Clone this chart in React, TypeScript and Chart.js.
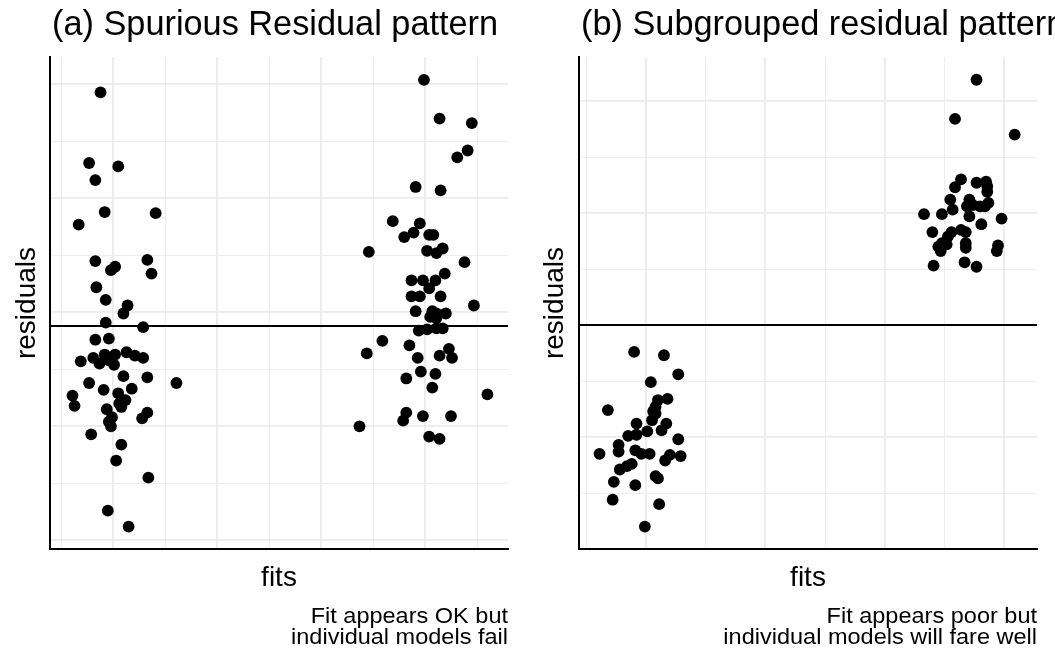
import React, { useEffect, useRef } from 'react';
import { Chart, registerables } from 'chart.js';

Chart.register(...registerables);

// ---------------- Panel (a): spurious residual pattern ----------------
const spuriousFits = [
  0.88, 0.77, 1.05, 0.83, 0.92, 1.41, 0.67, 0.83, 0.98, 1.02, 1.33, 1.37, 0.84, 0.93, 1.14, 1.10, 0.93, 1.29,
  0.83, 0.96, 0.81, 0.87, 0.92, 0.96, 1.01, 1.02, 1.13, 1.21, 1.29, 0.69, 1.10, 1.33, 1.61, 0.77, 0.91, 1.18,
  0.61, 0.63, 1.05, 1.06, 1.12, 1.08, 0.94, 0.99, 0.96, 0.98, 1.33, 1.28, 0.79, 1.08, 1.03, 1.34, 0.95, 1.15,
  3.99, 4.14, 4.45, 4.41, 4.31, 3.91, 4.15, 3.69, 3.95, 3.89, 3.80, 4.04, 4.08, 3.46, 4.02, 4.11, 4.17, 4.38,
  4.19, 3.87, 3.98, 4.10, 4.04, 3.87, 3.95, 4.15, 4.47, 3.91, 4.07, 4.05, 4.11, 4.20, 4.11, 3.94, 4.02, 4.11,
  4.17, 3.59, 3.44, 3.85, 3.93, 4.14, 4.23, 4.26, 3.96, 4.10, 3.82, 4.07, 4.60, 3.82, 3.79, 3.98, 4.25, 3.37,
  4.04, 4.14,
];
const spuriousResiduals = [
  2.05, 1.43, 1.40, 1.28, 1.00, 0.99, 0.89, 0.57, 0.49, 0.52, 0.58, 0.46, 0.34, 0.23, 0.18, 0.11, 0.03, -0.01,
  -0.12, -0.11, -0.28, -0.33, -0.25, -0.30, -0.34, -0.25, -0.23, -0.26, -0.28, -0.31, -0.44, -0.45, -0.50, -0.50, -0.56, -0.55,
  -0.61, -0.70, -0.59, -0.68, -0.65, -0.71, -0.73, -0.80, -0.84, -0.88, -0.76, -0.81, -0.95, -1.04, -1.18, -1.33, -1.62, -1.76,
  2.16, 1.82, 1.78, 1.54, 1.48, 1.22, 1.19, 0.92, 0.90, 0.82, 0.78, 0.80, 0.80, 0.65, 0.66, 0.64, 0.68, 0.56,
  0.46, 0.40, 0.40, 0.40, 0.33, 0.26, 0.26, 0.26, 0.18, 0.13, 0.13, 0.08, 0.11, 0.11, 0.07, -0.04, -0.03, -0.02,
  -0.02, -0.13, -0.24, -0.17, -0.28, -0.26, -0.20, -0.28, -0.40, -0.42, -0.46, -0.54, -0.60, -0.76, -0.83, -0.79, -0.79, -0.88,
  -0.97, -0.99,
];
const spuriousXRange = [0.394, 4.798];
const spuriousYRange = [-1.956, 2.36];
const spuriousXMajor = [1, 2, 3, 4];
const spuriousXMinor = [0.5, 1.5, 2.5, 3.5, 4.5];
const spuriousYMajor = [-1.88, -0.88, 0.12, 1.12, 2.12];
const spuriousYMinor = [-1.38, -0.38, 0.62, 1.62];

// ---------------- Panel (b): subgrouped residual pattern ----------------
const subgroupFits = [
  0.90, 1.15, 1.27, 1.04, 0.68, 1.10, 1.18, 1.08, 1.06, 1.08, 1.05, 0.92, 1.17, 1.13, 1.01, 0.85, 0.92, 1.27,
  0.77, 0.77, 0.61, 0.91, 0.96, 1.03, 1.16, 1.20, 1.29, 0.88, 0.84, 0.78, 1.08, 1.10, 0.73, 0.91, 0.72, 1.11, 0.99,
  3.77, 3.59, 4.09, 3.64, 3.59, 3.77, 3.85, 3.86, 3.86, 3.55, 3.71, 3.57, 3.69, 3.74, 3.80, 3.87, 3.84, 3.33,
  3.48, 3.71, 3.98, 3.81, 3.40, 3.56, 3.64, 3.68, 3.53, 3.48, 3.45, 3.47, 3.52, 3.68, 3.68, 3.95, 3.94, 3.41, 3.67, 3.77,
];
const subgroupResiduals = [
  -0.24, -0.27, -0.44, -0.51, -0.76, -0.67, -0.66, -0.73, -0.77, -0.79, -0.85, -0.88, -0.88, -0.94, -0.95, -0.99, -0.98, -1.02,
  -1.07, -1.13, -1.15, -1.12, -1.15, -1.15, -1.21, -1.16, -1.17, -1.24, -1.26, -1.29, -1.35, -1.37, -1.40, -1.43, -1.56, -1.60, -1.80,
  2.19, 1.84, 1.70, 1.30, 1.23, 1.27, 1.28, 1.24, 1.19, 1.12, 1.12, 1.03, 1.06, 1.07, 1.06, 1.09, 1.06, 0.99,
  0.99, 0.97, 0.95, 0.90, 0.83, 0.83, 0.85, 0.83, 0.79, 0.73, 0.70, 0.66, 0.72, 0.73, 0.69, 0.71, 0.66, 0.53, 0.56, 0.52,
];
const subgroupXRange = [0.438, 4.277];
const subgroupYRange = [-2.0, 2.393];
const subgroupXMajor = [1, 2, 3, 4];
const subgroupXMinor = [0.5, 1.5, 2.5, 3.5];
const subgroupYMajor = [-2, -1, 0, 1, 2];
const subgroupYMinor = [-1.5, -0.5, 0.5, 1.5];

const referenceLevel = 0;

const titles = ['(a) Spurious Residual pattern', '(b) Subgrouped residual pattern'];
const xAxisTitle = 'fits';
const yAxisTitle = 'residuals';
const captions = [
  ['Fit appears OK but', 'individual models fail'],
  ['Fit appears poor but', 'individual models will fare well'],
];

// ---------------- styling ----------------
const FONT = "'Liberation Sans', Arial, Helvetica, sans-serif";
const GRID_COLOR = '#EBEBEB';
const HEIGHT = 653;

type Panel = {
  fits: number[];
  residuals: number[];
  xRange: number[];
  yRange: number[];
  xMajor: number[];
  xMinor: number[];
  yMajor: number[];
  yMinor: number[];
  title: string;
  caption: string[];
  padding: { left: number; right: number; top: number; bottom: number };
  yTitleGap: number;
};

function makeTextPlugin(p: Panel) {
  return {
    id: 'panelText',
    afterDraw(chart: any) {
      const { ctx, chartArea: a } = chart;
      ctx.save();
      ctx.fillStyle = '#000';
      ctx.textBaseline = 'alphabetic';
      // title
      ctx.font = `34.3px ${FONT}`;
      ctx.textAlign = 'left';
      ctx.fillText(p.title, a.left + 2, 34.5);
      // x axis title
      ctx.font = `28px ${FONT}`;
      ctx.textAlign = 'center';
      ctx.fillText(xAxisTitle, (a.left + a.right) / 2, a.bottom + 37);
      // y axis title
      ctx.save();
      ctx.translate(a.left - p.yTitleGap, (a.top + a.bottom) / 2);
      ctx.rotate(-Math.PI / 2);
      ctx.fillText(yAxisTitle, 0, 0);
      ctx.restore();
      // caption (right-aligned under the panel)
      ctx.font = `22.5px ${FONT}`;
      ctx.textAlign = 'right';
      p.caption.forEach((line, i) => {
        ctx.save();
        ctx.translate(a.right, a.bottom + 73.7 + i * 20.8);
        ctx.scale(1.045, 1);
        ctx.fillText(line, 0, 0);
        ctx.restore();
      });
      ctx.restore();
    },
  };
}

function buildConfig(p: Panel): any {
  const xGrid = [...p.xMinor, ...p.xMajor].sort((m, n) => m - n);
  const yGrid = [...p.yMinor, ...p.yMajor].sort((m, n) => m - n);
  const points = p.fits.map((x, i) => ({ x, y: p.residuals[i] }));
  return {
    type: 'scatter',
    data: {
      datasets: [
        {
          data: [
            { x: p.xRange[0], y: referenceLevel },
            { x: p.xRange[1], y: referenceLevel },
          ],
          showLine: true,
          borderColor: '#000',
          borderWidth: 2,
          pointRadius: 0,
          pointHoverRadius: 0,
        },
        {
          data: points,
          backgroundColor: '#000',
          borderColor: '#000',
          borderWidth: 0,
          pointRadius: 5.9,
          pointHoverRadius: 5.9,
          pointStyle: 'circle',
        },
      ],
    },
    options: {
      animation: false,
      responsive: false,
      events: [],
      layout: { padding: p.padding, autoPadding: false },
      plugins: {
        legend: { display: false },
        tooltip: { enabled: false },
        title: { display: false },
      },
      scales: {
        x: {
          type: 'linear',
          min: p.xRange[0],
          max: p.xRange[1],
          afterBuildTicks: (scale: any) => {
            scale.ticks = xGrid.map((value) => ({ value }));
          },
          ticks: { display: false },
          grid: {
            color: GRID_COLOR,
            drawTicks: false,
            lineWidth: (c: any) => (c.tick && p.xMajor.includes(c.tick.value) ? 1.8 : 0.9),
          },
          border: { display: true, color: '#000', width: 2 },
        },
        y: {
          type: 'linear',
          min: p.yRange[0],
          max: p.yRange[1],
          afterBuildTicks: (scale: any) => {
            scale.ticks = yGrid.map((value) => ({ value }));
          },
          ticks: { display: false },
          grid: {
            color: GRID_COLOR,
            drawTicks: false,
            lineWidth: (c: any) => (c.tick && p.yMajor.includes(c.tick.value) ? 1.8 : 0.9),
          },
          border: { display: true, color: '#000', width: 2 },
        },
      },
    },
    plugins: [makeTextPlugin(p)],
  };
}

const panels: Panel[] = [
  {
    fits: spuriousFits,
    residuals: spuriousResiduals,
    xRange: spuriousXRange,
    yRange: spuriousYRange,
    xMajor: spuriousXMajor,
    xMinor: spuriousXMinor,
    yMajor: spuriousYMajor,
    yMinor: spuriousYMinor,
    title: titles[0],
    caption: captions[0],
    padding: { left: 50, right: 19, top: 57, bottom: 104 },
    yTitleGap: 15,
  },
  {
    fits: subgroupFits,
    residuals: subgroupResiduals,
    xRange: subgroupXRange,
    yRange: subgroupYRange,
    xMajor: subgroupXMajor,
    xMinor: subgroupXMinor,
    yMajor: subgroupYMajor,
    yMinor: subgroupYMinor,
    title: titles[1],
    caption: captions[1],
    padding: { left: 52, right: 18, top: 57, bottom: 104 },
    yTitleGap: 16,
  },
];

function PanelChart({ panel, left, width }: { panel: Panel; left: number; width: number }) {
  const ref = useRef<HTMLCanvasElement>(null);
  useEffect(() => {
    if (!ref.current) return;
    const chart = new Chart(ref.current, buildConfig(panel));
    return () => chart.destroy();
  }, [panel]);
  return (
    <canvas
      ref={ref}
      width={width}
      height={HEIGHT}
      style={{ position: 'absolute', left, top: 0, width, height: HEIGHT, display: 'block' }}
    />
  );
}

export default function App() {
  return (
    <div
      style={{
        position: 'fixed',
        left: 0,
        top: 0,
        width: 1055,
        height: HEIGHT,
        overflow: 'hidden',
        background: '#fff',
      }}
    >
      <PanelChart panel={panels[0]} left={0} width={527} />
      <PanelChart panel={panels[1]} left={527} width={528} />
    </div>
  );
}
